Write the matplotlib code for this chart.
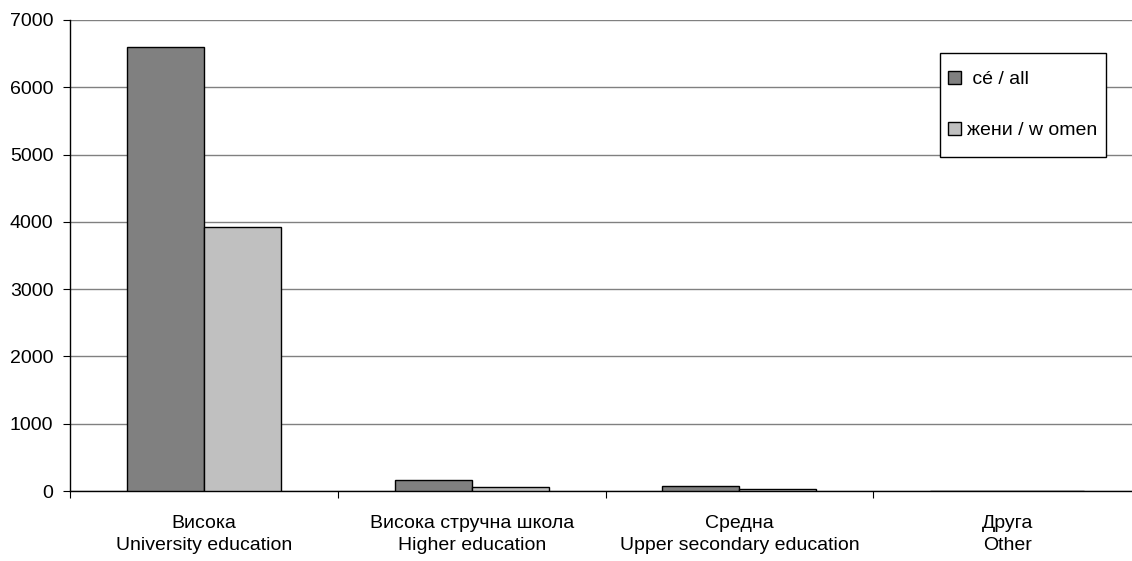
import numpy as np
import matplotlib.pyplot as plt
from matplotlib.patches import Patch, Rectangle

plt.rcParams["font.family"] = ["Liberation Sans", "DejaVu Sans"]

# data
categories = ["Висока\nUniversity education",
              "Висока стручна школа\nHigher education",
              "Средна\nUpper secondary education",
              "Друга\nOther"]
all_vals = [6600, 160, 80, 0]
women_vals = [3930, 55, 30, 0]
series_names = [" cé / all", "жени / w omen"]

fig = plt.figure(figsize=(11.32, 5.61), dpi=100)
# axes spans 70px .. 1141px (right edge falls slightly beyond the canvas)
ax = fig.add_axes([70 / 1132, (561 - 491) / 561, 1071 / 1132, 471 / 561])

x = np.arange(len(categories)) + 0.5
w = 77 / 268
ax.bar(x - w / 2, all_vals, w, color="#808080", edgecolor="black", linewidth=1.0, zorder=3)
ax.bar(x + w / 2, women_vals, w, color="#c0c0c0", edgecolor="black", linewidth=1.0, zorder=3)

ax.set_xlim(0, len(categories))
ax.set_ylim(0, 7000)
ax.set_yticks(range(0, 7001, 1000))
ax.yaxis.grid(True, color="#808080", linewidth=1.0, zorder=0)
ax.set_axisbelow(True)

# category boundaries get the tick marks, labels sit in the middle
ax.set_xticks(range(len(categories) + 1))
ax.set_xticklabels([])
ax.set_xticks(x, minor=True)
ax.set_xticklabels(categories, minor=True, fontsize=14, linespacing=1.4)
ax.tick_params(axis="x", which="minor", length=0, pad=17)
ax.tick_params(axis="x", which="major", length=5, direction="out", color="black")
ax.tick_params(axis="y", length=5, labelsize=14, pad=7)

for s in ["top", "right"]:
    ax.spines[s].set_visible(False)
ax.spines["left"].set_linewidth(1.0)
ax.spines["bottom"].set_linewidth(1.0)

# legend box drawn separately so the padding can match
fig.patches.append(Rectangle((940 / 1132, 1 - 157 / 561), 166 / 1132, 104 / 561,
                             transform=fig.transFigure, facecolor="white",
                             edgecolor="black", linewidth=1.0, zorder=4))
handles = [Patch(facecolor="#808080", edgecolor="black"),
           Patch(facecolor="#c0c0c0", edgecolor="black")]
leg = fig.legend(handles, series_names, loc="center left",
                 bbox_to_anchor=(948 / 1132, 1 - 105 / 561),
                 fontsize=14, frameon=False,
                 handlelength=0.65, handleheight=0.65, handletextpad=0.35,
                 labelspacing=1.7, borderpad=0, borderaxespad=0)
leg.set_zorder(5)

fig.savefig("out.png", dpi=100)
